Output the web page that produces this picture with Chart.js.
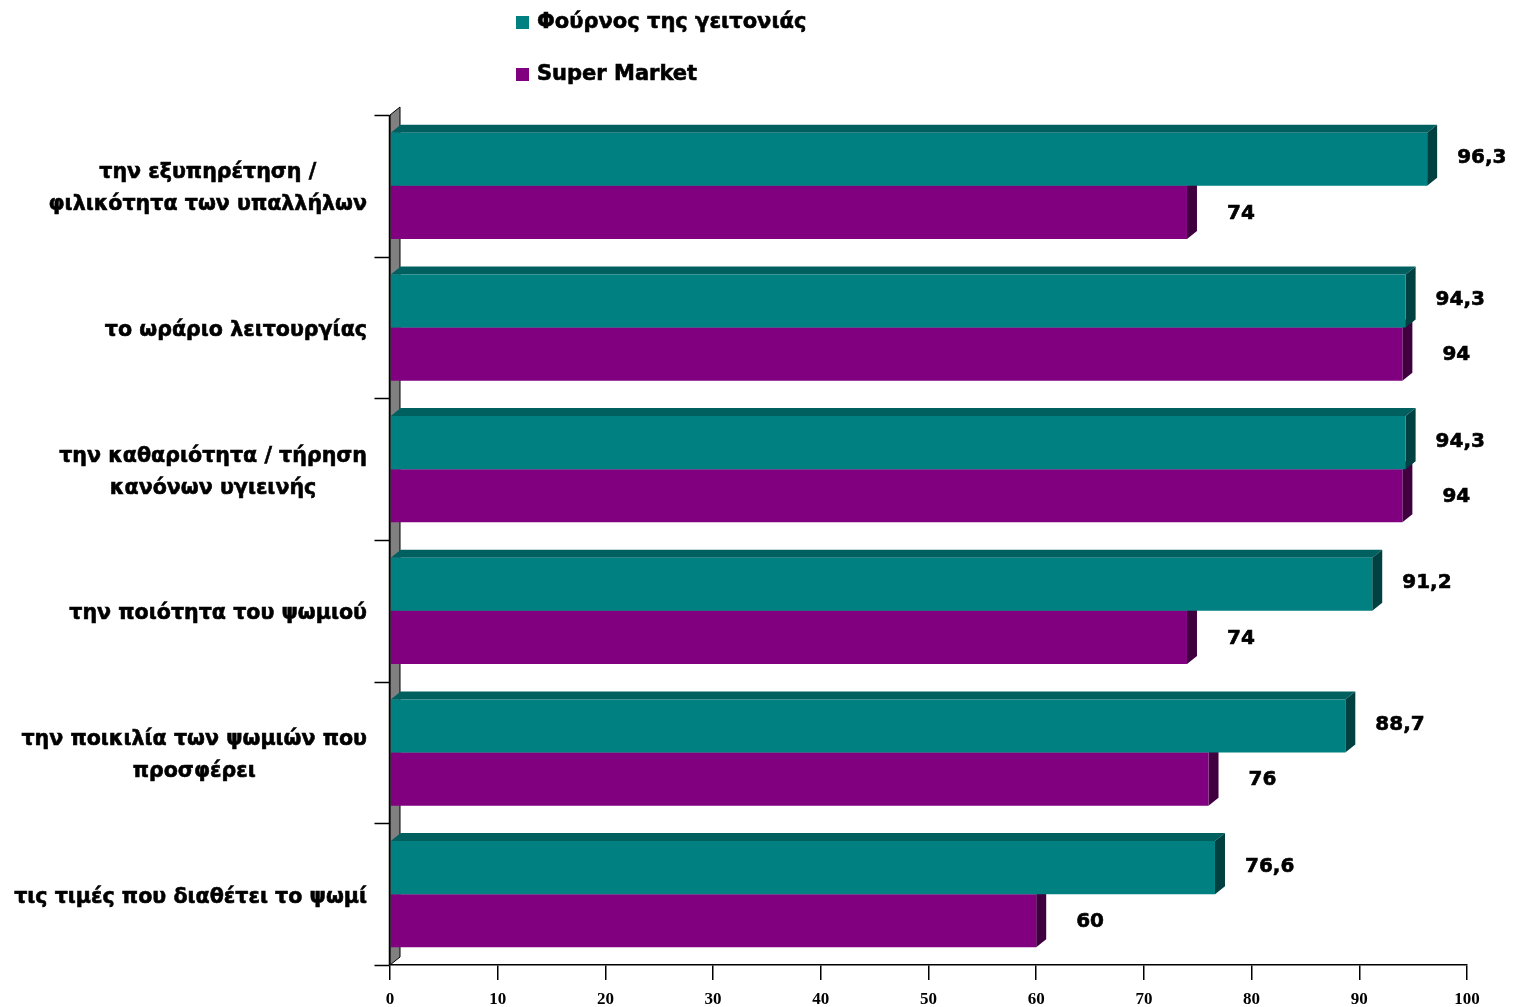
<!DOCTYPE html>
<html>
<head>
<meta charset="utf-8">
<script src="https://cdn.jsdelivr.net/npm/chart.js@4.4.1/dist/chart.umd.min.js"></script>
<style>
  body { margin: 0; background: #fff; }
  #wrap { width: 1513px; height: 1007px; }
</style>
</head>
<body>
<div id="wrap"><canvas id="chart" width="1513" height="1007"></canvas></div>
<script>
// data
const categories = [
  ['την εξυπηρέτηση /', 'φιλικότητα των υπαλλήλων'],
  ['το ωράριο λειτουργίας'],
  ['την καθαριότητα / τήρηση', 'κανόνων υγιεινής'],
  ['την ποιότητα του ψωμιού'],
  ['την ποικιλία των ψωμιών που', 'προσφέρει'],
  ['τις τιμές που διαθέτει το ψωμί']
];
const seriesNames = ['Φούρνος της γειτονιάς', 'Super Market'];
const bakeryValues = [96.3, 94.3, 94.3, 91.2, 88.7, 76.6];
const superMarketValues = [74, 94, 94, 74, 76, 60];
const xTicks = [0, 10, 20, 30, 40, 50, 60, 70, 80, 90, 100];

const colors = ['#008080', '#800080'];
const topColors = ['#006060', '#600060'];
const sideColors = ['#004040', '#400040'];
const DX = 10, DY = -8; // depth of the fake 3d
const catFont = 'bold 20.6px "DejaVu Sans", Verdana, sans-serif';
const legendFont = 'bold 21px "DejaVu Sans", Verdana, sans-serif';
const valFont = 'bold 20px "DejaVu Sans", Verdana, sans-serif';

function poly(ctx, pts, fill, stroke) {
  ctx.beginPath();
  ctx.moveTo(pts[0][0], pts[0][1]);
  for (let i = 1; i < pts.length; i++) ctx.lineTo(pts[i][0], pts[i][1]);
  ctx.closePath();
  ctx.fillStyle = fill;
  ctx.fill();
  if (stroke) { ctx.strokeStyle = stroke; ctx.lineWidth = 1; ctx.stroke(); }
}

// bold text a bit heavier, like the original
function heavyText(ctx, txt, x, y) {
  ctx.fillText(txt, x, y);
  ctx.strokeText(txt, x, y);
}

const depthPlugin = {
  id: 'depth',
  beforeDatasetsDraw(chart) {
    const ctx = chart.ctx;
    const area = chart.chartArea;
    const x0 = chart.scales.x.getPixelForValue(0);
    ctx.save();
    // grey side wall
    poly(ctx, [[x0, area.top], [x0 + DX, area.top + DY], [x0 + DX, area.bottom + DY], [x0, area.bottom]], '#808080', '#000');
    // top and side faces, back series first
    for (let d = chart.data.datasets.length - 1; d >= 0; d--) {
      chart.getDatasetMeta(d).data.forEach((bar) => {
        const p = bar.getProps(['x', 'y', 'base', 'height'], true);
        const top = p.y - p.height / 2, bot = p.y + p.height / 2;
        poly(ctx, [[p.base, top], [p.base + DX, top + DY], [p.x + DX, top + DY], [p.x, top]], topColors[d]);
        poly(ctx, [[p.x, top], [p.x + DX, top + DY], [p.x + DX, bot + DY], [p.x, bot]], sideColors[d]);
      });
    }
    ctx.restore();
  },
  afterDatasetsDraw(chart) {
    const ctx = chart.ctx;
    const area = chart.chartArea;
    const x0 = Math.round(chart.scales.x.getPixelForValue(0)) - 0.5;
    const yScale = chart.scales.y;
    ctx.save();
    ctx.strokeStyle = '#000';
    ctx.lineWidth = 1.5;
    ctx.beginPath();
    ctx.moveTo(x0, area.top);
    ctx.lineTo(x0, area.bottom);
    // category tick marks on the left
    const step = (area.bottom - area.top) / categories.length;
    for (let i = 0; i <= categories.length; i++) {
      const y = Math.round(area.top + i * step) + 0.5;
      ctx.moveTo(x0 - 15, y);
      ctx.lineTo(x0, y);
    }
    ctx.stroke();

    ctx.fillStyle = '#000';
    ctx.strokeStyle = '#000';
    ctx.lineWidth = 0.6;
    ctx.textBaseline = 'middle';

    // category labels: right aligned block, lines centred within it
    ctx.font = catFont;
    ctx.textAlign = 'center';
    categories.forEach((lines, i) => {
      const cy = yScale.getPixelForValue(i) + 3;
      const w = Math.max(...lines.map((l) => ctx.measureText(l).width));
      const cx = 367 - w / 2;
      lines.forEach((l, j) => {
        heavyText(ctx, l, cx, cy + (j - (lines.length - 1) / 2) * 32);
      });
    });

    // value labels
    ctx.font = valFont;
    ctx.textAlign = 'left';
    chart.data.datasets.forEach((ds, d) => {
      chart.getDatasetMeta(d).data.forEach((bar, i) => {
        const p = bar.getProps(['x', 'y'], true);
        const txt = String(ds.data[i]).replace('.', ',');
        const gap = d === 0 ? 20 : 30;
        heavyText(ctx, txt, p.x + DX + gap, p.y + (d === 0 ? -1 : 1));
      });
    });

    // legend, stacked vertically
    ctx.font = legendFont;
    chart.data.datasets.forEach((ds, d) => {
      const y = 23 + d * 52;
      ctx.fillStyle = ds.backgroundColor;
      ctx.fillRect(516, y - 7, 13, 13);
      ctx.fillStyle = '#000';
      heavyText(ctx, ds.label, 537, y);
    });
    ctx.restore();
  }
};

new Chart(document.getElementById('chart'), {
  type: 'bar',
  data: {
    labels: categories,
    datasets: [
      { label: seriesNames[0], data: bakeryValues, backgroundColor: colors[0] },
      { label: seriesNames[1], data: superMarketValues, backgroundColor: colors[1] }
    ]
  },
  options: {
    indexAxis: 'y',
    responsive: false,
    animation: false,
    events: [],
    layout: { padding: { left: 390, right: 46, top: 115, bottom: 0 } },
    datasets: { bar: { categoryPercentage: 0.75, barPercentage: 1.0 } },
    plugins: { legend: { display: false }, tooltip: { enabled: false } },
    scales: {
      x: {
        min: xTicks[0],
        max: xTicks[xTicks.length - 1],
        afterBuildTicks: (scale) => { scale.ticks = xTicks.map((v) => ({ value: v })); },
        afterFit: (scale) => { scale.height = 42; },
        ticks: {
          color: '#000',
          padding: 9,
          font: { family: '"Liberation Serif", "Times New Roman", serif', weight: 'bold', size: 17 }
        },
        grid: { drawOnChartArea: false, drawTicks: true, tickLength: 15, color: '#000', lineWidth: 1.5 },
        border: { color: '#000', width: 1.5 }
      },
      y: { display: false }
    }
  },
  plugins: [depthPlugin]
});
</script>
</body>
</html>
